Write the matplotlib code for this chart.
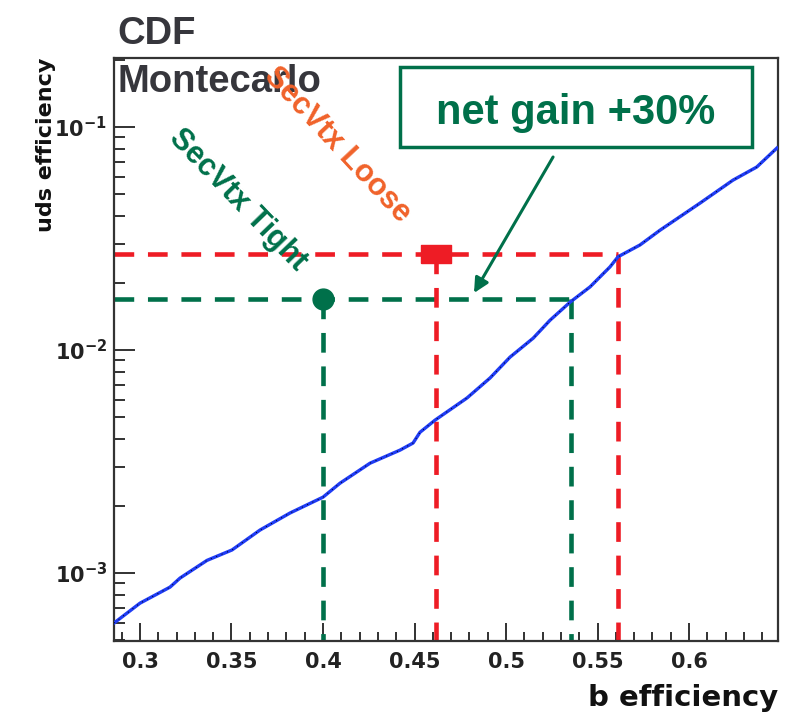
import numpy as np
import matplotlib.pyplot as plt
from matplotlib.patches import Rectangle
from matplotlib.ticker import MultipleLocator, LogLocator, NullFormatter

plt.rcParams['mathtext.fontset'] = 'dejavusans'

# b-tag efficiency vs light (uds) mistag efficiency
b_eff = [0.2858, 0.300, 0.3164, 0.3219, 0.3366, 0.3503, 0.3656, 0.3820, 0.400,
         0.4093, 0.4257, 0.4421, 0.4492, 0.4530, 0.4612, 0.4787, 0.4913, 0.5022,
         0.5148, 0.5240, 0.5350, 0.5459, 0.5568, 0.5612, 0.5732, 0.5842, 0.606,
         0.624, 0.637, 0.648]
uds_eff = [5.97e-4, 7.33e-4, 8.65e-4, 9.5e-4, 1.14e-3, 1.27e-3, 1.56e-3, 1.86e-3, 2.19e-3,
           2.53e-3, 3.11e-3, 3.56e-3, 3.83e-3, 4.28e-3, 4.85e-3, 6.1e-3, 7.5e-3, 9.3e-3,
           1.13e-2, 1.36e-2, 1.64e-2, 1.92e-2, 2.36e-2, 2.62e-2, 2.96e-2, 3.45e-2, 4.56e-2,
           5.78e-2, 6.62e-2, 8.05e-2]

# operating points: [old b eff, b eff at same mistag on new curve]
loose_b = [0.4617, 0.5612]
loose_uds = 0.02686
tight_b = [0.400, 0.5353]
tight_uds = 0.01694

x_ticks = [0.3, 0.35, 0.4, 0.45, 0.5, 0.55, 0.6]
x_tick_labels = ['0.3', '0.35', '0.4', '0.45', '0.5', '0.55', '0.6']
y_ticks = [1e-3, 1e-2, 1e-1]
y_tick_labels = [r'$\mathbf{10^{-3}}$', r'$\mathbf{10^{-2}}$', r'$\mathbf{10^{-1}}$']

red = '#ee1c25'
green = '#00704a'
orange = '#f0622a'
blue = '#1f3cf5'

W, H = 798, 712
fig = plt.figure(figsize=(W / 100, H / 100), dpi=100)
ax = fig.add_axes([114 / W, 1 - 641 / H, 664 / W, 583 / H])

ax.set_yscale('log')
xmin, xmax = 0.2858, 0.6486
ymin, ymax = 4.96e-4, 0.204
ax.set_xlim(xmin, xmax)
ax.set_ylim(ymin, ymax)

# dashed working-point lines
dash = dict(lw=3.3, dashes=(4.3, 3.0), zorder=2)
ax.plot([xmin, loose_b[1]], [loose_uds, loose_uds], color=red, **dash)
ax.plot([xmin, tight_b[1]], [tight_uds, tight_uds], color=green, **dash)
for b in loose_b:
    ax.plot([b, b], [loose_uds, ymin], color=red, **dash)
for b in tight_b:
    ax.plot([b, b], [tight_uds, ymin], color=green, **dash)

# markers
rect = [(-1, -0.6), (1, -0.6), (1, 0.6), (-1, 0.6), (-1, -0.6)]
ax.plot(loose_b[0], loose_uds, marker=rect, ms=22, color=red, mec=red, ls='none', zorder=5)
ax.plot(tight_b[0], tight_uds, marker='o', ms=15, color=green, ls='none', zorder=5)

# curve
ax.plot(b_eff, uds_eff, color=blue, lw=2.4, zorder=3)
ax.plot(b_eff, uds_eff, color='black', lw=0.7, ls=(0, (1, 5)), zorder=4)

# ticks
ax.set_xticks(x_ticks)
ax.set_xticklabels(x_tick_labels)
ax.xaxis.set_minor_locator(MultipleLocator(0.01))
ax.set_yticks(y_ticks)
ax.set_yticklabels(y_tick_labels)
ax.yaxis.set_minor_locator(LogLocator(base=10, subs=np.arange(2, 10)))
ax.yaxis.set_minor_formatter(NullFormatter())
ax.tick_params(which='both', direction='in', top=False, right=False, color='#222222', width=1.3)
ax.xaxis.set_tick_params(which='major', length=13, pad=8)
ax.xaxis.set_tick_params(which='minor', length=6.5)
ax.yaxis.set_tick_params(which='major', length=15, pad=5)
ax.yaxis.set_tick_params(which='minor', length=8)
for lab in ax.get_xticklabels():
    lab.set_fontsize(15)
    lab.set_fontweight('bold')
    lab.set_color('#222222')
for lab in ax.get_yticklabels():
    lab.set_fontsize(15)
    lab.set_color('#222222')

for sp in ax.spines.values():
    sp.set_linewidth(1.6)
    sp.set_color('#333333')

ax.set_xlabel('b efficiency', loc='right', fontsize=21, fontweight='bold', color='#111111')
ax.xaxis.set_label_coords(1.0, -0.074)
ax.set_ylabel('uds efficiency', loc='top', fontsize=16, fontweight='bold', color='#111111')
ax.yaxis.set_label_coords(-0.088, 1.0)

# annotations
fig.text(117 / W, 1 - 43.5 / H, 'CDF', fontsize=27.5, fontweight='bold',
         family='Liberation Sans', color='#36363c', va='baseline')
fig.text(117 / W, 1 - 92 / H, 'Montecarlo', fontsize=27.5, fontweight='bold',
         family='Liberation Sans', color='#36363c', va='baseline')
fig.text(337 / W, 1 - 145 / H, 'SecVtx Loose', fontsize=22, fontweight='bold',
         family='Liberation Sans', color=orange, rotation=-47,
         ha='center', va='center', rotation_mode='anchor')
fig.text(238 / W, 1 - 200 / H, 'SecVtx Tight', fontsize=22, fontweight='bold',
         family='Liberation Sans', color=green, rotation=-46,
         ha='center', va='center', rotation_mode='anchor')

fig.patches.append(Rectangle((400 / W, 1 - 147 / H), 352 / W, 80 / H, transform=fig.transFigure,
                             fill=False, ec=green, lw=2.5))
fig.text(575.5 / W, 1 - 124 / H, 'net gain +30%', fontsize=30, fontweight='bold',
         family='Liberation Sans', color=green, ha='center', va='baseline')

ax.annotate('', xy=(0.4825, 0.01803), xytext=(0.5257, 0.0734),
            arrowprops=dict(arrowstyle='-|>', color=green, lw=2.2, mutation_scale=22,
                            shrinkA=0, shrinkB=0))

fig.savefig('out.png', dpi=100)
